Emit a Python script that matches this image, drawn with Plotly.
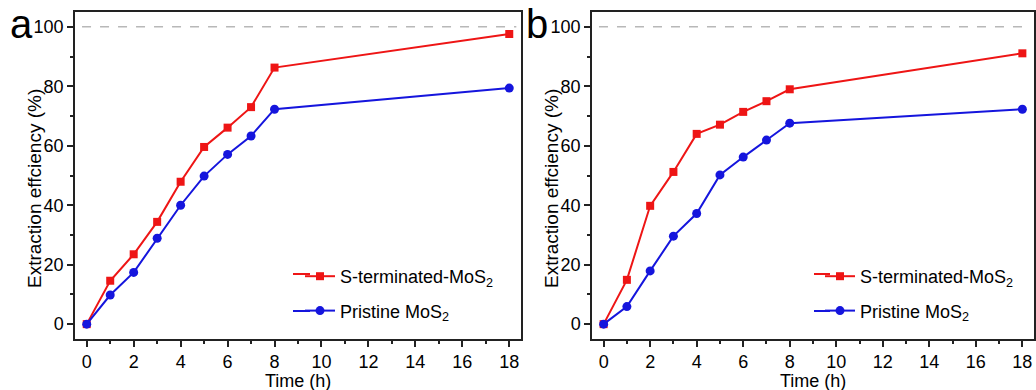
import plotly.graph_objects as go

time_h = [0, 1, 2, 3, 4, 5, 6, 7, 8, 18]

a_s_term = [0, 14.6, 23.5, 34.4, 47.9, 59.6, 66.1, 73.0, 86.3, 97.6]
a_pristine = [0, 9.8, 17.4, 28.9, 40.0, 49.8, 57.1, 63.3, 72.3, 79.4]

b_s_term = [0, 14.9, 39.8, 51.2, 64.0, 67.1, 71.4, 75.0, 79.0, 91.1]
b_pristine = [0, 5.9, 17.9, 29.6, 37.2, 50.2, 56.2, 61.9, 67.6, 72.3]

name_s = "S-terminated-MoS<sub>2</sub>"
name_p = "Pristine MoS<sub>2</sub>"
x_title = "Time (h)"
y_title = "Extraction effciency (%)"
panel_labels = ["a", "b"]

RED = "#EE1515"
BLUE = "#1515DD"
FONT = "Liberation Sans, Arial, sans-serif"

W, H = 1036, 390

fig = go.Figure()

def add_series(x, y, name, color, symbol, size, xa, ya, legend, group):
    fig.add_trace(go.Scatter(
        x=x, y=y, name=name, mode="lines+markers",
        line=dict(color=color, width=2),
        marker=dict(color=color, symbol=symbol, size=size),
        xaxis=xa, yaxis=ya, legend=legend, legendgroup=group,
    ))

add_series(time_h, a_s_term, name_s, RED, "square", 8, "x", "y", "legend", "a1")
add_series(time_h, a_pristine, name_p, BLUE, "circle", 9, "x", "y", "legend", "a2")
add_series(time_h, b_s_term, name_s, RED, "square", 8, "x2", "y2", "legend2", "b1")
add_series(time_h, b_pristine, name_p, BLUE, "circle", 9, "x2", "y2", "legend2", "b2")

px = lambda v: v / W
py = lambda v: 1 - v / H

xdom_a = [px(75), px(521)]
xdom_b = [px(592), px(1034)]
ydom = [py(339), py(12)]

axis_common = dict(
    showline=True, linecolor="#222222", linewidth=1.5, mirror=True,
    ticks="outside", ticklen=6, tickwidth=1.5, tickcolor="#222222",
    showgrid=False, zeroline=False, automargin=False,
    tickfont=dict(family=FONT, size=18, color="black"),
)

xcommon = dict(axis_common, range=[-0.5, 18.5], tickmode="linear", tick0=0, dtick=2,
               minor=dict(ticks="outside", ticklen=3, tickwidth=1.5, tickcolor="#222222", dtick=1, showgrid=False))
ycommon = dict(axis_common, range=[-5, 105], tickmode="linear", tick0=0, dtick=20,
               minor=dict(ticks="outside", ticklen=3, tickwidth=1.5, tickcolor="#222222", dtick=10, showgrid=False))

legend_common = dict(
    font=dict(family=FONT, size=18, color="black"),
    bgcolor="rgba(0,0,0,0)", borderwidth=0,
    tracegroupgap=8, xanchor="left", yanchor="top",
)

fig.update_layout(
    width=W, height=H,
    margin=dict(l=0, r=0, t=0, b=0),
    paper_bgcolor="white", plot_bgcolor="white",
    xaxis=dict(xcommon, domain=xdom_a, anchor="y"),
    yaxis=dict(ycommon, domain=ydom, anchor="x"),
    xaxis2=dict(xcommon, domain=xdom_b, anchor="y2"),
    yaxis2=dict(ycommon, domain=ydom, anchor="x2"),
    legend=dict(legend_common, x=px(300), y=py(258)),
    legend2=dict(legend_common, x=px(820), y=py(258)),
    showlegend=True,
)

for xa, ya in [("x", "y"), ("x2", "y2")]:
    fig.add_shape(type="line", xref=xa, yref=ya, x0=-0.2, x1=18.3, y0=100, y1=100,
                  line=dict(color="#B8B8B8", width=1.5, dash="dash"))

# extend the legend line samples to the longer length of the original
for (x0, x1, yc, col) in [(293, 310, 274, RED), (293, 310, 311, BLUE),
                          (814, 830, 274, RED), (814, 830, 311, BLUE)]:
    fig.add_shape(type="line", xref="paper", yref="paper", x0=px(x0), x1=px(x1),
                  y0=py(yc), y1=py(yc), line=dict(color=col, width=2))

annots = []
for i, (xc, yc_center, label_x) in enumerate([(298, 189, 11), (813, 189, 527)]):
    annots.append(dict(text=x_title, x=px(xc), y=py(381), xref="paper", yref="paper",
                       showarrow=False, xanchor="center", yanchor="middle",
                       font=dict(family=FONT, size=18, color="black")))
    annots.append(dict(text=y_title, x=px(34 if i == 0 else 551), y=py(yc_center),
                       xref="paper", yref="paper", textangle=-90,
                       showarrow=False, xanchor="center", yanchor="middle",
                       font=dict(family=FONT, size=19, color="black")))
    annots.append(dict(text=panel_labels[i], x=px(label_x - 3), y=py(24), xref="paper", yref="paper",
                       showarrow=False, xanchor="left", yanchor="middle",
                       font=dict(family=FONT, size=40, color="black")))
fig.update_layout(annotations=annots)

fig.write_html("out.html")
